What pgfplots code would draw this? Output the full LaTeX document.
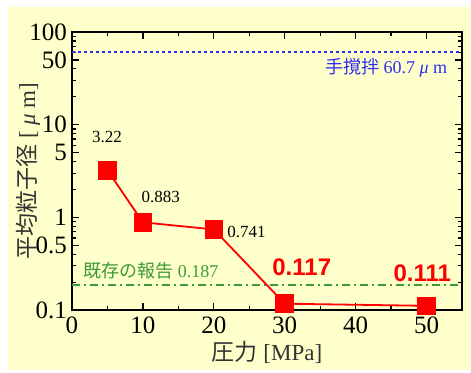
\documentclass[border=0pt]{standalone}
\usepackage{fontspec}
\setmainfont{Liberation Serif}
\newfontfamily\jp{Noto Sans CJK JP}
\newfontfamily\sansb{Liberation Sans}
\usepackage{pgfplots}
\pgfplotsset{compat=1.18}
\definecolor{bg}{RGB}{255,255,204}
\definecolor{bl}{RGB}{45,45,240}
\definecolor{gr}{RGB}{60,155,50}
\begin{document}
\begin{tikzpicture}
\useasboundingbox (0,0) rectangle (235.5pt,186pt);
\fill[white] (0,0) rectangle (235.5pt,186pt);
\fill[bg] (4pt,1pt) rectangle (235pt,182.5pt);
\begin{axis}[at={(36pt,31pt)}, anchor=south west, scale only axis,
  width=195pt, height=139pt,
  ymode=log, xmin=0, xmax=55, ymin=0.1, ymax=100,
  xtick={0,10,...,50}, minor xtick={5,15,...,55},
  ytick={0.1,0.5,1,5,10,50,100}, yticklabels={0.1,0.5,1,5,10,50,100},
  minor ytick={0.2,0.3,0.4,0.6,0.7,0.8,0.9,2,3,4,6,7,8,9,20,30,40,60,70,80,90},
  tick align=inside, major tick length=3.5pt, minor tick length=2pt,
  axis line style={line width=1pt}, every tick/.style={black, line width=0.6pt},
  axis background/.style={fill=bg},
  /pgf/number format/assume math mode=true,
  ticklabel style={font=\fontsize{12.5}{14}\selectfont},
  xticklabel style={yshift=0pt},
  yticklabel style={xshift=1pt},
  xlabel={{\jp 圧力} [MPa]},
  ylabel={{\jp 平均粒子径} [ {\itshape μ} m]},
  label style={font=\fontsize{11.5}{13}\selectfont, text=black!80},
  xlabel style={at={(axis description cs:0.5,-0.151)}, anchor=center},
  ylabel style={at={(axis description cs:-0.113,0.5)}, anchor=center},
  clip=false,
]
\addplot[bl, line width=0.8pt, dash pattern=on 1.5pt off 1.5pt] coordinates {(0,60.7) (55,60.7)};
\addplot[gr, line width=0.8pt, dash pattern=on 4pt off 2pt on 1pt off 2pt] coordinates {(0,0.187) (55,0.187)};
\addplot[red, line width=0.9pt, mark=square*, mark size=4.2pt, mark options={solid}] coordinates {
(5,3.22) (10,0.883) (20,0.741) (30,0.117) (50,0.111)};
\node[font=\fontsize{8.5}{10}\selectfont] at (axis cs:4.93,7.35) {3.22};
\node[font=\fontsize{8.5}{10}\selectfont] at (axis cs:12.5,1.66) {0.883};
\node[font=\fontsize{8.5}{10}\selectfont] at (axis cs:24.6,0.693) {0.741};
\node[font=\sansb\bfseries\fontsize{12}{14}\selectfont, text=red] at (axis cs:32.4,0.291) {0.117};
\node[font=\sansb\bfseries\fontsize{12}{14}\selectfont, text=red] at (axis cs:49.4,0.251) {0.111};
\node[anchor=east, inner sep=0pt, text=bl, font=\fontsize{9}{11}\selectfont] at (axis cs:52.96,40.8) {{\jp 手撹拌} 60.7 {\itshape μ} m};
\node[anchor=west, inner sep=0pt, text=gr, font=\fontsize{9}{11}\selectfont] at (axis cs:1.55,0.263) {{\jp 既存の報告} 0.187};
\end{axis}
\end{tikzpicture}
\end{document}
